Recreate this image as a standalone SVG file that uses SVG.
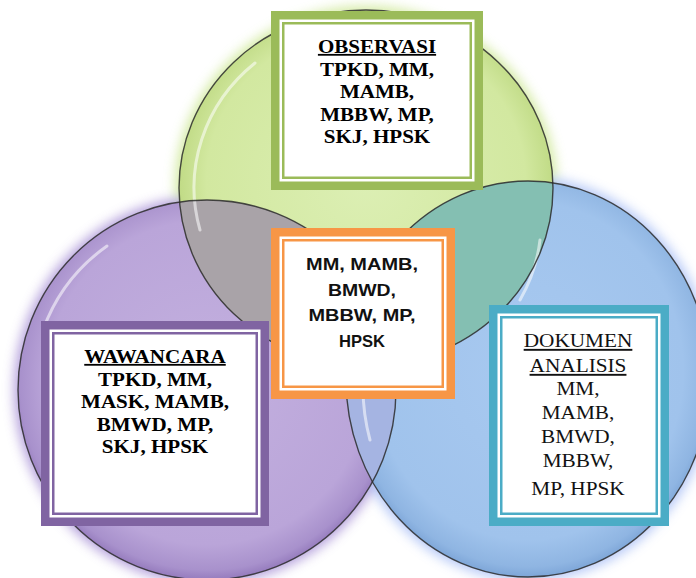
<svg xmlns="http://www.w3.org/2000/svg" width="696" height="578" viewBox="0 0 696 578">
<style>
.sb{font-family:"Liberation Serif","Times New Roman",serif;font-weight:bold;font-size:18px;text-anchor:middle;fill:#000}
.sr{font-family:"Liberation Serif","Times New Roman",serif;font-size:19px;text-anchor:middle;fill:#111}
.ss{font-family:"Liberation Sans",Arial,sans-serif;font-weight:bold;font-size:16.5px;text-anchor:middle;fill:#111}
.white{fill:#fff}
.outline{fill:none;stroke:#2b2b2b;stroke-width:1.4;stroke-opacity:0.85}
.hl{fill:none;stroke:#fff;stroke-width:3;stroke-opacity:0.55;stroke-linecap:round}
</style>
<defs>
<filter id="blur" x="-20%" y="-20%" width="140%" height="140%"><feGaussianBlur stdDeviation="6"/></filter>
<radialGradient id="gG" cx="50%" cy="48%" r="52%">
<stop offset="0" stop-color="#dcefb4"/><stop offset="0.82" stop-color="#d2e8a0"/><stop offset="0.95" stop-color="#c2dc88"/><stop offset="1" stop-color="#b1cf76"/>
</radialGradient>
<radialGradient id="gP" cx="50%" cy="48%" r="52%">
<stop offset="0" stop-color="#c3b0df"/><stop offset="0.82" stop-color="#baa5d9"/><stop offset="0.95" stop-color="#a891cc"/><stop offset="1" stop-color="#957bbd"/>
</radialGradient>
<radialGradient id="gB" cx="50%" cy="48%" r="52%">
<stop offset="0" stop-color="#a8c9f0"/><stop offset="0.82" stop-color="#a0c3ec"/><stop offset="0.95" stop-color="#8fb5e2"/><stop offset="1" stop-color="#7ea6d8"/>
</radialGradient>
<clipPath id="cG"><ellipse cx="366" cy="188" rx="187" ry="178"/></clipPath>
<clipPath id="cP"><ellipse cx="207" cy="390" rx="189" ry="190"/></clipPath>
<clipPath id="cB"><ellipse cx="528" cy="379" rx="182" ry="198"/></clipPath>
</defs>

<g id="venn">
<g id="glow" filter="url(#blur)" opacity="0.75">
<ellipse cx="366" cy="188" rx="191" ry="182" fill="#c6e486"/>
<ellipse cx="207" cy="390" rx="193" ry="194" fill="#9c82d0"/>
<ellipse cx="528" cy="379" rx="186" ry="202" fill="#9db6f4"/>
</g>
<ellipse id="set-wawancara" cx="207" cy="390" rx="189" ry="190" fill="url(#gP)"/>
<ellipse id="set-observasi" cx="366" cy="188" rx="187" ry="178" fill="url(#gG)"/>
<ellipse id="set-dokumen" cx="528" cy="379" rx="182" ry="198" fill="url(#gB)"/>
<ellipse cx="207" cy="390" rx="189" ry="190" fill="#a9a3a8" clip-path="url(#cG)"/>
<ellipse cx="528" cy="379" rx="182" ry="198" fill="#84bfb2" clip-path="url(#cG)"/>
<ellipse cx="528" cy="379" rx="182" ry="198" fill="#a5b4e2" clip-path="url(#cP)"/>
<g clip-path="url(#cB)"><ellipse cx="207" cy="390" rx="189" ry="190" fill="#8fa3a6" clip-path="url(#cG)"/></g>
<path class="hl" d="M200,230 A172,163 0 0 1 255,63"/>
<path class="hl" d="M43,330 A175,176 0 0 1 107,246"/>
<path class="hl" d="M520,300 A172,163 0 0 0 540,240" stroke-opacity="0.35"/>
<path class="hl" d="M370,440 A168,184 0 0 1 420,250" stroke-opacity="0.35"/>
<ellipse class="outline" cx="207" cy="390" rx="189" ry="190"/>
<ellipse class="outline" cx="366" cy="188" rx="187" ry="178"/>
<ellipse class="outline" cx="528" cy="379" rx="182" ry="198"/>
</g>

<g id="connectors"/>

<g id="box-observasi">
<rect x="271" y="11" width="212" height="179" fill="#9BBB59"/>
<rect class="white" x="279.5" y="19.5" width="195" height="162"/>
<rect class="white" x="283.25" y="23.25" width="187.5" height="154.5" stroke="#9BBB59" stroke-width="2.5"/>
<g transform="translate(377,0) scale(1.17,1)">
<text class="sb" x="0" y="53" text-decoration="underline">OBSERVASI</text>
<text class="sb" x="0" y="76">TPKD, MM,</text>
<text class="sb" x="0" y="98">MAMB,</text>
<text class="sb" x="0" y="121">MBBW, MP,</text>
<text class="sb" x="0" y="143">SKJ, HPSK</text>
</g>
</g>

<g id="box-irisan">
<rect x="271" y="228" width="184" height="171" fill="#F79646"/>
<rect class="white" x="279.5" y="236.5" width="167" height="154"/>
<rect class="white" x="283.25" y="240.25" width="159.5" height="146.5" stroke="#F79646" stroke-width="2.5"/>
<text class="ss" x="362" y="270" textLength="112" lengthAdjust="spacingAndGlyphs">MM, MAMB,</text>
<text class="ss" x="362" y="296" textLength="68" lengthAdjust="spacingAndGlyphs">BMWD,</text>
<text class="ss" x="362" y="321" textLength="107" lengthAdjust="spacingAndGlyphs">MBBW, MP,</text>
<text class="ss" x="362" y="347" textLength="46" lengthAdjust="spacingAndGlyphs">HPSK</text>
</g>

<g id="box-wawancara">
<rect x="41" y="321" width="228" height="205" fill="#8064A2"/>
<rect class="white" x="49.5" y="329.5" width="211" height="188"/>
<rect class="white" x="53.25" y="333.25" width="203.5" height="180.5" stroke="#8064A2" stroke-width="2.5"/>
<g transform="translate(155,0) scale(1.17,1)">
<text class="sb" x="0" y="363" text-decoration="underline">WAWANCARA</text>
<text class="sb" x="0" y="386">TPKD, MM,</text>
<text class="sb" x="0" y="408">MASK, MAMB,</text>
<text class="sb" x="0" y="431">BMWD, MP,</text>
<text class="sb" x="0" y="453">SKJ, HPSK</text>
</g>
</g>

<g id="box-dokumen">
<rect x="489" y="305" width="180" height="221" fill="#4BACC6"/>
<rect class="white" x="497.5" y="313.5" width="163" height="204"/>
<rect class="white" x="501.25" y="317.25" width="155.5" height="196.5" stroke="#4BACC6" stroke-width="2.5"/>
<g transform="translate(578,0) scale(1.12,1)">
<text class="sr" x="0" y="347" text-decoration="underline">DOKUMEN</text>
<text class="sr" x="0" y="372" text-decoration="underline">ANALISIS</text>
<text class="sr" x="0" y="395">MM,</text>
<text class="sr" x="0" y="419">MAMB,</text>
<text class="sr" x="0" y="443">BMWD,</text>
<text class="sr" x="0" y="467">MBBW,</text>
<text class="sr" x="0" y="495">MP, HPSK</text>
</g>
</g>
</svg>
